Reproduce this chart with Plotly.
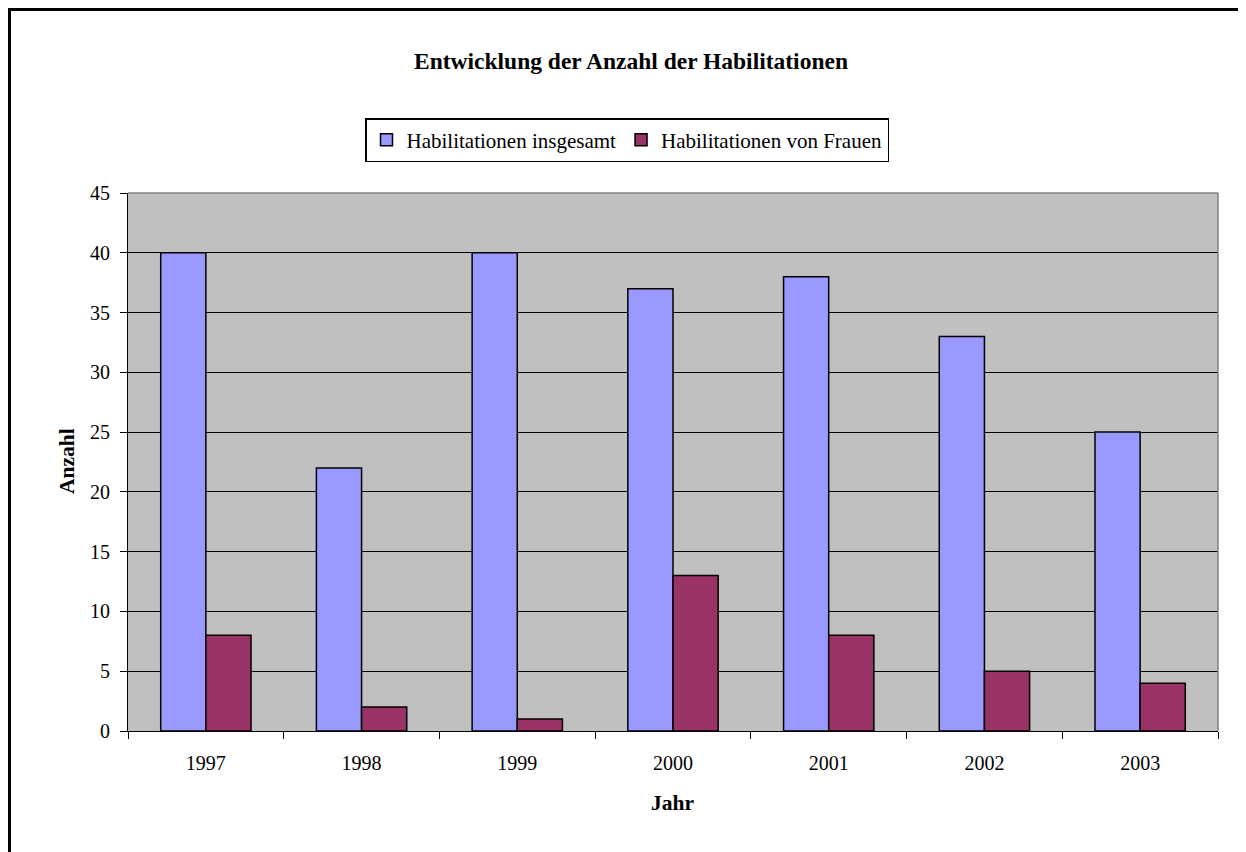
import plotly.graph_objects as go

jahre = ["1997", "1998", "1999", "2000", "2001", "2002", "2003"]
insgesamt = [40, 22, 40, 37, 38, 33, 25]
frauen = [8, 2, 1, 13, 8, 5, 4]

W, H = 1246, 852
OFF = 8  # page body margin offset
L, R, T, B = 128 - OFF, 1218 - OFF, 193 - OFF, 731 - OFF
pw, ph = R - L, B - T

def px_x(p):
    return (p - OFF - L) / pw

def px_y(p):
    return (B - (p - OFF)) / ph

font = "Liberation Serif, Times New Roman, serif"

fig = go.Figure()
fig.add_trace(go.Bar(x=jahre, y=insgesamt, name="Habilitationen insgesamt",
                     marker=dict(color="#9999FF", line=dict(color="black", width=1.5))))
fig.add_trace(go.Bar(x=jahre, y=frauen, name="Habilitationen von Frauen",
                     marker=dict(color="#993366", line=dict(color="black", width=1.5))))

fig.update_layout(
    width=W, height=H,
    margin=dict(l=L, r=W - R, t=T, b=H - B, pad=0),
    paper_bgcolor="white", plot_bgcolor="#C0C0C0",
    barmode="group", bargap=0.42, bargroupgap=0,
    font=dict(family=font, size=20, color="black"),
    showlegend=True,
    legend=dict(orientation="h", x=px_x(627), xanchor="center", y=px_y(140), yanchor="middle",
                bgcolor="white", bordercolor="black", borderwidth=1.5,
                font=dict(family=font, size=21), itemwidth=30, tracegroupgap=0),
    xaxis=dict(showgrid=False, showline=True, linecolor="black", linewidth=1.2,
               ticks="outside", ticklen=7, tickcolor="black", tickson="boundaries",
               tickfont=dict(family=font, size=20), ticklabelstandoff=14, fixedrange=True),
    yaxis=dict(range=[0, 45], dtick=5, showgrid=True, gridcolor="black", gridwidth=1,
               showline=True, linecolor="black", linewidth=1.2, ticks="outside", ticklen=7,
               tickcolor="black", tickfont=dict(family=font, size=20), ticklabelstandoff=6,
               zeroline=False, fixedrange=True),
)

fig.add_annotation(text="<b>Entwicklung der Anzahl der Habilitationen</b>", xref="paper", yref="paper",
                   x=px_x(631), y=px_y(61), showarrow=False, xanchor="center", yanchor="middle",
                   font=dict(family=font, size=23.5))
fig.add_annotation(text="<b>Anzahl</b>", xref="paper", yref="paper", x=px_x(67), y=px_y(461),
                   textangle=-90, showarrow=False, xanchor="center", yanchor="middle",
                   font=dict(family=font, size=21.5))
fig.add_annotation(text="<b>Jahr</b>", xref="paper", yref="paper", x=px_x(672), y=px_y(803),
                   showarrow=False, xanchor="center", yanchor="middle",
                   font=dict(family=font, size=21.5))

# plot-area top/right gray border
fig.add_shape(type="line", xref="paper", yref="paper", x0=0, x1=1, y0=1, y1=1,
              line=dict(color="#808080", width=1.5))
fig.add_shape(type="line", xref="paper", yref="paper", x0=1, x1=1, y0=0, y1=1,
              line=dict(color="#808080", width=1.5))
# outer chart border
fig.add_shape(type="rect", xref="paper", yref="paper", x0=px_x(9.5), x1=px_x(1300),
              y0=px_y(900), y1=px_y(9.5), line=dict(color="black", width=3),
              fillcolor="rgba(0,0,0,0)", layer="above")

fig.write_html("out.html")
